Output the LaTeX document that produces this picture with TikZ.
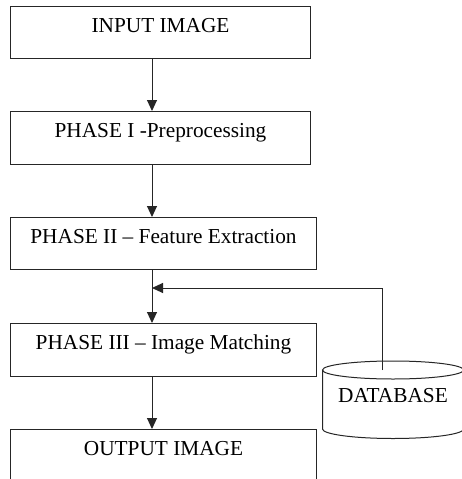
\documentclass[tikz,border=0pt]{standalone}
\usepackage{fontspec}
\setmainfont{Liberation Serif}
\usetikzlibrary{arrows.meta,calc}
\begin{document}
\begin{tikzpicture}[x=1pt,y=-1pt,
  box/.style={draw=black!85,line width=1pt,rectangle,anchor=north west,inner sep=0pt},
  lbl/.style={anchor=base,inner sep=0pt,font=\fontsize{21.3pt}{24pt}\selectfont},
  arr/.style={draw=black!85,line width=1pt,-{Triangle[width=10pt,length=11pt]}}]
\useasboundingbox (0,0) rectangle (462,479);
\clip (0,0) rectangle (462,479);
\fill[white] (0,0) rectangle (462,479);
\coordinate (ax) at (152,0);
% boxes
\node[box,minimum width=300pt,minimum height=52pt] (b1) at (10,6) {};
\node[box,minimum width=300pt,minimum height=53pt] (b2) at (10,111) {};
\node[box,minimum width=306pt,minimum height=52pt] (b3) at (10,217) {};
\node[box,minimum width=306pt,minimum height=53pt] (b4) at (10,323) {};
\node[box,minimum width=306pt,minimum height=70pt] (b5) at (10,429) {};
% labels
\node[lbl] (t1) at ($(b1.north)+(0,26.5)$) {INPUT IMAGE};
\node[lbl] (t2) at ($(b2.north)+(0,26.5)$) {PHASE I -Preprocessing};
\node[lbl] (t3) at ($(b3.north)+(0,26.5)$) {PHASE II – Feature Extraction};
\node[lbl] (t4) at ($(b4.north)+(0,26.5)$) {PHASE III – Image Matching};
\node[lbl] (t5) at ($(b5.north)+(0,26.5)$) {OUTPUT IMAGE};
% database cylinder
\coordinate (dbc) at (393,370);
\draw[draw=black!85,line width=1pt,fill=white]
  (322.5,370) -- (322.5,429) arc[start angle=180,end angle=0,x radius=70.5,y radius=9.5]
  -- (463.5,370);
\draw[draw=black!85,line width=1pt] (dbc) ellipse[x radius=70.5,y radius=9];
\node[lbl] (db) at (393,402) {DATABASE};
\coordinate (dbtop) at (382,370);
% connectors
\draw[arr] (b1.south -| ax) -- (b2.north -| ax);
\draw[arr] (b2.south -| ax) -- (b3.north -| ax);
\draw[arr] (b3.south -| ax) -- (b4.north -| ax);
\draw[arr] (b4.south -| ax) -- (b5.north -| ax);
\coordinate (join) at (152,288);
\draw[arr] (dbtop) |- (join);
\end{tikzpicture}
\end{document}
